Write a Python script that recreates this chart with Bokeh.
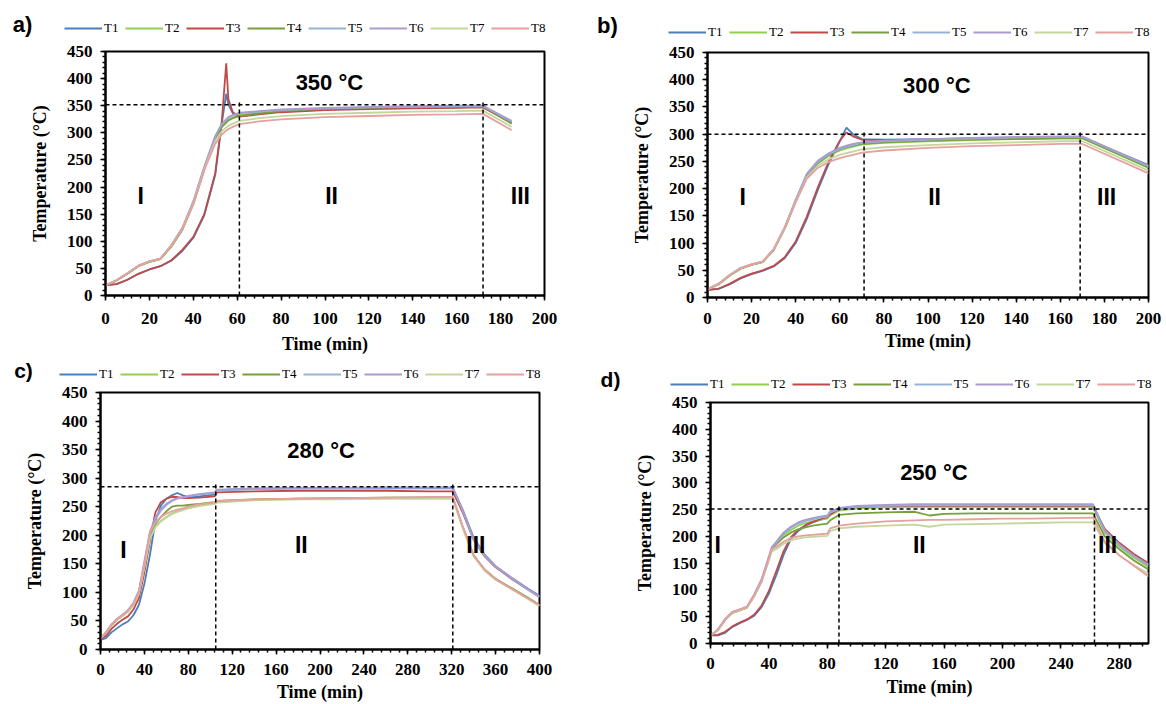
from bokeh.plotting import figure
from bokeh.models import Range1d, FixedTicker, Legend, LegendItem, Label
from bokeh.layouts import column, row
from bokeh.embed import file_html
from bokeh.resources import INLINE

SERIES = ["T1", "T2", "T3", "T4", "T5", "T6", "T7", "T8"]
COLORS = ["#4a7ebb", "#92d050", "#be4b48", "#77a03c", "#95b3d7", "#a99bd0", "#c3d69b", "#e6a0a0"]

# ---------------- panel a) 350 °C ----------------
A_TIME = [0, 5, 10, 15, 20, 25, 30, 35, 40, 45, 50, 53, 55, 56, 58, 61, 70, 80, 100, 120, 140, 160, 172, 185]
A_T1 = [19, 21, 29, 40, 48, 54, 64, 82, 106, 148, 222, 318, 372, 352, 336, 331, 336, 339, 343, 345, 346, 347, 348, 319]
A_T2 = [19, 28, 40, 54, 62, 67, 91, 122, 170, 233, 290, 312, 320, 324, 328, 333, 337, 340, 344, 346, 347, 348, 348, 318]
A_T3 = [19, 21, 29, 40, 48, 54, 65, 84, 108, 150, 226, 322, 428, 362, 338, 330, 334, 338, 342, 344, 345, 346, 347, 318]
A_T4 = [19, 27, 40, 54, 62, 67, 90, 121, 168, 232, 289, 311, 319, 323, 327, 331, 336, 340, 344, 346, 348, 349, 349, 317]
A_T5 = [19, 28, 41, 55, 63, 68, 92, 124, 172, 236, 293, 316, 324, 328, 332, 336, 339, 342, 345, 347, 348, 349, 349, 321]
A_T6 = [19, 28, 41, 55, 63, 68, 93, 125, 174, 238, 294, 317, 325, 329, 333, 337, 340, 343, 346, 348, 349, 350, 350, 322]
A_T7 = [19, 28, 41, 55, 63, 68, 92, 123, 170, 233, 285, 303, 310, 313, 317, 322, 327, 331, 335, 337, 339, 340, 341, 311]
A_T8 = [19, 28, 41, 55, 63, 68, 92, 123, 169, 231, 280, 297, 304, 307, 311, 316, 321, 325, 329, 331, 333, 334, 335, 305]
A_SET = 352
A_PHASES = [61, 172]

# ---------------- panel b) 300 °C ----------------
B_TIME = [0, 5, 10, 15, 20, 25, 30, 35, 40, 45, 50, 55, 60, 63, 66, 70, 80, 100, 120, 140, 160, 170, 200]
B_T1 = [14, 16, 24, 35, 43, 49, 57, 72, 100, 144, 197, 246, 287, 312, 300, 291, 290, 291, 292, 293, 294, 294, 243]
B_T2 = [15, 25, 40, 53, 60, 65, 87, 126, 176, 222, 246, 260, 270, 274, 277, 281, 284, 287, 289, 291, 292, 292, 238]
B_T3 = [14, 16, 25, 36, 44, 50, 58, 74, 103, 148, 202, 250, 288, 303, 296, 290, 289, 290, 291, 292, 293, 293, 241]
B_T4 = [15, 24, 40, 53, 60, 65, 87, 127, 177, 223, 247, 262, 272, 276, 279, 282, 285, 288, 290, 292, 293, 293, 239]
B_T5 = [15, 25, 41, 54, 61, 66, 88, 128, 178, 225, 249, 263, 273, 277, 280, 284, 287, 290, 292, 294, 295, 295, 241]
B_T6 = [15, 25, 41, 54, 61, 66, 89, 129, 180, 227, 251, 265, 275, 279, 282, 285, 288, 291, 293, 295, 296, 296, 242]
B_T7 = [15, 25, 41, 54, 61, 66, 88, 127, 176, 220, 242, 254, 262, 265, 268, 272, 276, 280, 283, 285, 287, 287, 233]
B_T8 = [15, 25, 41, 54, 61, 66, 88, 127, 175, 218, 238, 249, 256, 259, 262, 266, 270, 275, 278, 280, 282, 282, 228]
B_SET = 300
B_PHASES = [71, 169]

# ---------------- panel c) 280 °C ----------------
C_TIME = [0, 5, 10, 15, 20, 25, 30, 35, 40, 45, 50, 55, 60, 65, 70, 75, 80, 90, 104, 106, 140, 180, 220, 260, 300, 321, 330, 340, 350, 360, 375, 390, 400]
C_T1 = [17, 20, 30, 37, 44, 49, 60, 78, 115, 165, 225, 252, 264, 270, 274, 270, 267, 268, 271, 279, 281, 282, 282, 282, 282, 282, 245, 196, 166, 146, 125, 106, 94]
C_T2 = [19, 29, 42, 52, 59, 66, 78, 97, 145, 195, 215, 225, 232, 238, 242, 245, 248, 252, 256, 258, 262, 264, 264, 265, 265, 265, 214, 164, 139, 123, 106, 89, 77]
C_T3 = [18, 24, 36, 45, 52, 58, 70, 90, 135, 190, 240, 258, 264, 267, 267, 265, 265, 266, 268, 275, 277, 278, 278, 278, 277, 277, 240, 192, 163, 144, 123, 104, 92]
C_T4 = [19, 29, 42, 52, 59, 67, 79, 99, 148, 200, 220, 232, 242, 250, 252, 252, 253, 255, 258, 260, 263, 264, 265, 266, 266, 266, 215, 165, 140, 124, 107, 90, 78]
C_T5 = [19, 30, 43, 53, 60, 68, 80, 100, 150, 203, 228, 243, 253, 260, 264, 266, 268, 271, 274, 279, 281, 282, 282, 283, 283, 283, 243, 192, 164, 145, 124, 104, 92]
C_T6 = [19, 30, 44, 54, 61, 69, 82, 103, 155, 206, 231, 246, 255, 261, 265, 267, 269, 272, 275, 280, 282, 283, 283, 284, 284, 284, 244, 193, 165, 146, 125, 105, 93]
C_T7 = [19, 29, 42, 52, 59, 66, 78, 97, 144, 194, 214, 224, 231, 237, 241, 244, 247, 251, 255, 257, 261, 263, 263, 264, 264, 264, 213, 163, 138, 122, 105, 88, 76]
C_T8 = [19, 30, 43, 53, 60, 68, 80, 100, 150, 205, 222, 232, 238, 242, 245, 247, 250, 254, 257, 260, 263, 264, 265, 266, 267, 267, 216, 165, 140, 123, 106, 89, 77]
C_SET = 285
C_PHASES = [105, 321]

# ---------------- panel d) 250 °C ----------------
D_TIME = [0, 5, 10, 15, 20, 25, 30, 35, 40, 42, 45, 50, 55, 60, 65, 70, 75, 80, 82, 88, 100, 120, 140, 150, 160, 180, 200, 220, 240, 262, 270, 280, 290, 300]
D_T1 = [15, 15, 20, 31, 38, 44, 52, 68, 93, 107, 127, 165, 195, 210, 220, 226, 231, 236, 240, 250, 254, 256, 256, 256, 256, 256, 256, 256, 256, 256, 212, 186, 165, 148]
D_T2 = [15, 25, 44, 57, 62, 67, 89, 117, 159, 177, 187, 202, 212, 220, 225, 228, 231, 233, 240, 248, 252, 254, 255, 255, 255, 255, 255, 255, 255, 255, 207, 181, 160, 143]
D_T3 = [15, 16, 22, 32, 39, 45, 54, 71, 98, 113, 135, 172, 198, 212, 221, 227, 232, 236, 241, 251, 255, 257, 257, 257, 257, 257, 257, 257, 257, 257, 214, 188, 167, 150]
D_T4 = [15, 25, 44, 57, 62, 67, 89, 116, 158, 176, 185, 198, 207, 213, 217, 220, 222, 224, 230, 240, 243, 245, 246, 239, 242, 243, 243, 243, 243, 243, 200, 176, 155, 138]
D_T5 = [15, 25, 45, 58, 63, 68, 90, 118, 160, 178, 188, 205, 216, 224, 229, 232, 235, 237, 245, 251, 255, 257, 258, 258, 258, 258, 258, 258, 258, 258, 210, 184, 163, 146]
D_T6 = [15, 26, 46, 59, 64, 69, 92, 120, 163, 180, 190, 207, 218, 226, 231, 234, 237, 239, 247, 253, 257, 259, 260, 260, 260, 260, 260, 260, 260, 260, 211, 185, 164, 147]
D_T7 = [15, 25, 44, 57, 62, 67, 88, 115, 155, 172, 176, 186, 193, 196, 198, 199, 200, 201, 210, 215, 218, 220, 222, 218, 222, 223, 224, 225, 226, 226, 188, 164, 146, 130]
D_T8 = [15, 25, 45, 58, 63, 68, 90, 117, 158, 176, 180, 190, 197, 200, 202, 203, 204, 205, 215, 220, 224, 228, 230, 231, 231, 232, 233, 233, 234, 235, 190, 165, 145, 125]
D_SET = 251
D_PHASES = [88, 263]

Y_TICKS = [0, 50, 100, 150, 200, 250, 300, 350, 400, 450]

SERIF = "Liberation Serif"
SANS = "Liberation Sans"
W = 583


def legend_strip(tag, times, values, height, leg_x, leg_y, tag_x, tag_y, tag_size):
    # thin strip above each panel holding the panel letter and the series legend
    s = figure(width=W, height=height, output_backend="svg", toolbar_location=None,
               x_range=Range1d(10000, 10001), y_range=Range1d(10000, 10001),
               x_axis_type=None, y_axis_type=None, min_border=0)
    s.outline_line_color = None
    s.grid.visible = False
    items = []
    for name, col, vals in zip(SERIES, COLORS, values):
        r = s.line(times, vals, line_color=col, line_width=2)
        items.append(LegendItem(label=name, renderers=[r]))
    lg = Legend(items=items, orientation="horizontal", location=(leg_x, leg_y),
                glyph_width=38, glyph_height=12, label_width=15, label_height=12,
                label_standoff=2, spacing=6, padding=0, margin=0,
                border_line_alpha=0, background_fill_alpha=0,
                label_text_font=SERIF, label_text_font_size="13px", label_text_color="black")
    s.add_layout(lg, "center")
    s.add_layout(Label(x=tag_x, y=tag_y, x_units="screen", y_units="screen", text=tag,
                       text_font=SANS, text_font_style="bold", text_font_size=tag_size,
                       text_color="black", text_align="center", text_baseline="middle"))
    return s


def panel(title, times, values, setpoint, phases, xmax, xstep, xminor, xmajor_last,
          height, bl, br, bt, bb, tick_gap, label_gap, title_xy, region_xy):
    p = figure(width=W, height=height, output_backend="svg", toolbar_location=None,
               x_range=Range1d(0, xmax), y_range=Range1d(0, 450),
               min_border_left=bl, min_border_right=br, min_border_top=bt, min_border_bottom=bb)
    p.xgrid.visible = False
    p.ygrid.visible = False
    p.outline_line_color = "black"
    p.outline_line_width = 2
    p.outline_line_alpha = 1

    xt = list(range(0, xmajor_last + 1, xstep))
    p.xaxis.ticker = FixedTicker(ticks=xt, minor_ticks=list(range(0, xmax + 1, xminor)))
    p.yaxis.ticker = FixedTicker(ticks=Y_TICKS, minor_ticks=list(range(0, 451, 10)))
    p.xaxis.axis_label = "Time (min)"
    p.yaxis.axis_label = "Temperature (°C)"
    for ax in (p.xaxis[0], p.yaxis[0]):
        ax.axis_line_width = 2
        ax.axis_line_color = "black"
        ax.major_tick_in = 0
        ax.major_tick_out = 5
        ax.minor_tick_in = 0
        ax.minor_tick_out = 3
        ax.major_tick_line_width = 1.5
        ax.minor_tick_line_width = 1.5
        ax.major_label_text_font = SERIF
        ax.major_label_text_font_style = "bold"
        ax.major_label_text_font_size = "17px"
        ax.major_label_text_color = "black"
        ax.axis_label_text_font = SERIF
        ax.axis_label_text_font_style = "bold"
        ax.axis_label_text_font_size = "18px"
        ax.axis_label_text_color = "black"
    p.xaxis.major_label_standoff = tick_gap
    p.xaxis.axis_label_standoff = label_gap
    p.yaxis.major_label_standoff = 8
    p.yaxis.axis_label_standoff = 14

    for col, vals in zip(COLORS, values):
        p.line(times, vals, line_color=col, line_width=1.8)

    # dashed guides
    p.segment(x0=[0], y0=[setpoint], x1=[xmax], y1=[setpoint],
              line_color="black", line_width=1.5, line_dash="4 3")
    p.segment(x0=phases, y0=[0] * len(phases), x1=phases, y1=[setpoint + 8] * len(phases),
              line_color="black", line_width=1.5, line_dash="4 3")

    p.add_layout(Label(x=title_xy[0], y=title_xy[1], text=title, text_font=SANS,
                       text_font_style="bold", text_font_size="22px", text_color="black",
                       text_align="center", text_baseline="middle"))
    for txt, (rx, ry) in zip(["I", "II", "III"], region_xy):
        p.add_layout(Label(x=rx, y=ry, text=txt, text_font=SANS, text_font_style="bold",
                           text_font_size="23px", text_color="black",
                           text_align="center", text_baseline="middle"))
    return p


A_VALS = [A_T1, A_T2, A_T3, A_T4, A_T5, A_T6, A_T7, A_T8]
B_VALS = [B_T1, B_T2, B_T3, B_T4, B_T5, B_T6, B_T7, B_T8]
C_VALS = [C_T1, C_T2, C_T3, C_T4, C_T5, C_T6, C_T7, C_T8]
D_VALS = [D_T1, D_T2, D_T3, D_T4, D_T5, D_T6, D_T7, D_T8]

la = legend_strip("a)", A_TIME, A_VALS, 40, 64, 4, 22, 16, "22px")
pa = panel("350 °C", A_TIME, A_VALS, A_SET, A_PHASES, 200, 20, 4, 200,
           317, 105, 39, 11, 62, 12, 7, (102, 393), [(16, 184), (103, 184), (189, 184)])
lc = legend_strip("c)", C_TIME, C_VALS, 26, 59, 1, 23, 13, "21px")
pc = panel("280 °C", C_TIME, C_VALS, C_SET, C_PHASES, 400, 40, 8, 400,
           321, 100, 44, 9, 54, 9, 4, (201, 349), [(21, 175), (183, 183), (342, 183)])

lb = legend_strip("b)", B_TIME, B_VALS, 42, 85, 2, 24, 17, "22px")
pb = panel("300 °C", B_TIME, B_VALS, B_SET, B_PHASES, 200, 20, 4, 200,
           317, 124, 18, 10, 62, 10, 4, (104, 389), [(16, 184), (103, 184), (181, 184)])
ld = legend_strip("d)", D_TIME, D_VALS, 34, 87, 1, 27, 14, "21px")
pd_ = panel("250 °C", D_TIME, D_VALS, D_SET, D_PHASES, 300, 40, 8, 280,
            311, 127, 18, 9, 61, 9, 5, (153, 320), [(5, 183), (143, 183), (272, 183)])

layout = row(column(row(la), row(pa), row(lc), row(pc)),
             column(row(lb), row(pb), row(ld), row(pd_)))
open("out.html", "w").write(file_html(layout, INLINE))
